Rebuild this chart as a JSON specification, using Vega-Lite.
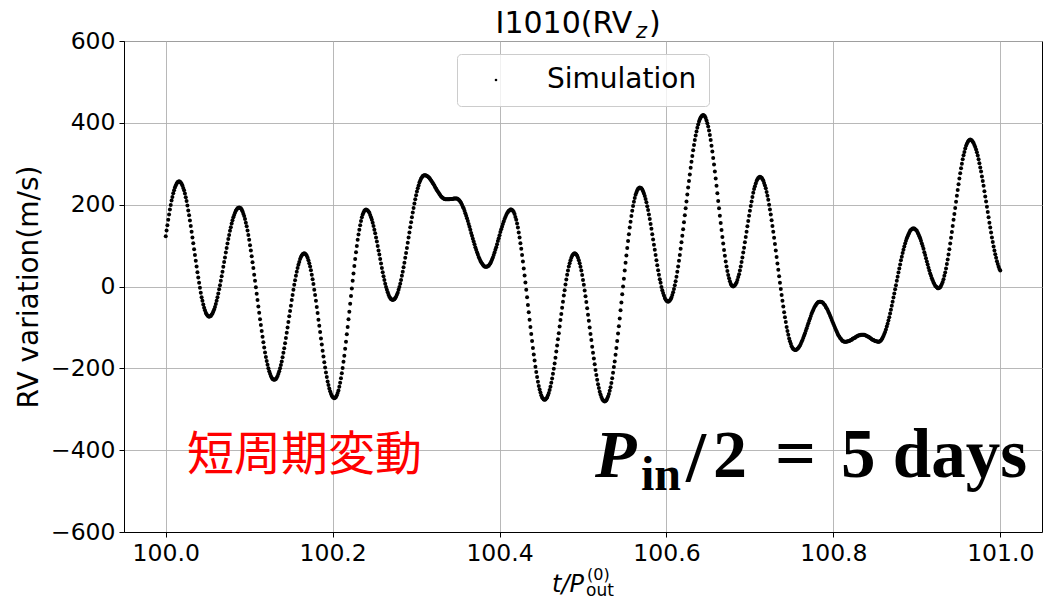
{
"$schema": "https://vega.github.io/schema/vega-lite/v6.json",
"width": 918,
"height": 491,
"autosize": {"type": "none"},
"padding": {"left": 124, "top": 41, "right": 1, "bottom": 69},
"background": "white",
"config": {
  "view": {"stroke": "black", "strokeWidth": 1},
  "font": "DejaVu Sans",
  "axis": {"labelFont": "DejaVu Sans", "labelFontSize": 23.5, "labelColor": "black", "tickColor": "black", "tickSize": 5, "tickWidth": 1, "domainColor": "black", "domainWidth": 1, "gridColor": "#b0b0b0", "gridWidth": 0.9, "labelPadding": 4, "labelFlush": false, "labelOverlap": false}
},
"layer": [
{
  "data": {"values": "t,v\n100.000,123\n100.001,137\n100.002,150\n100.003,163\n100.004,176\n100.005,188\n100.006,199\n100.007,210\n100.008,219\n100.009,228\n100.010,235\n100.011,242\n100.012,247\n100.013,251\n100.014,255\n100.015,256\n100.016,257\n100.017,256\n100.018,254\n100.019,251\n100.020,247\n100.021,241\n100.022,235\n100.023,227\n100.024,218\n100.025,209\n100.026,198\n100.027,186\n100.028,174\n100.029,161\n100.030,148\n100.031,134\n100.032,120\n100.033,106\n100.034,91\n100.035,77\n100.036,63\n100.037,49\n100.038,35\n100.039,22\n100.040,9\n100.041,-3\n100.042,-15\n100.043,-26\n100.044,-35\n100.045,-44\n100.046,-52\n100.047,-58\n100.048,-64\n100.049,-68\n100.050,-71\n100.051,-73\n100.052,-74\n100.053,-73\n100.054,-72\n100.055,-69\n100.056,-66\n100.057,-61\n100.058,-56\n100.059,-50\n100.060,-43\n100.061,-35\n100.062,-26\n100.063,-17\n100.064,-7\n100.065,3\n100.066,14\n100.067,25\n100.068,36\n100.069,48\n100.070,60\n100.071,71\n100.072,83\n100.073,94\n100.074,105\n100.075,116\n100.076,126\n100.077,136\n100.078,145\n100.079,154\n100.080,162\n100.081,169\n100.082,175\n100.083,180\n100.084,185\n100.085,188\n100.086,191\n100.087,192\n100.088,193\n100.089,192\n100.090,191\n100.091,188\n100.092,184\n100.093,178\n100.094,172\n100.095,165\n100.096,156\n100.097,147\n100.098,137\n100.099,126\n100.100,114\n100.101,101\n100.102,88\n100.103,74\n100.104,59\n100.105,45\n100.106,29\n100.107,14\n100.108,-2\n100.109,-18\n100.110,-33\n100.111,-49\n100.112,-64\n100.113,-80\n100.114,-94\n100.115,-109\n100.116,-123\n100.117,-136\n100.118,-149\n100.119,-161\n100.120,-172\n100.121,-182\n100.122,-191\n100.123,-200\n100.124,-207\n100.125,-213\n100.126,-219\n100.127,-223\n100.128,-226\n100.129,-227\n100.130,-228\n100.131,-227\n100.132,-226\n100.133,-223\n100.134,-219\n100.135,-213\n100.136,-207\n100.137,-200\n100.138,-192\n100.139,-183\n100.140,-173\n100.141,-162\n100.142,-151\n100.143,-139\n100.144,-126\n100.145,-113\n100.146,-100\n100.147,-87\n100.148,-73\n100.149,-60\n100.150,-47\n100.151,-33\n100.152,-21\n100.153,-8\n100.154,4\n100.155,15\n100.156,26\n100.157,36\n100.158,45\n100.159,53\n100.160,60\n100.161,67\n100.162,72\n100.163,76\n100.164,79\n100.165,80\n100.166,81\n100.167,80\n100.168,78\n100.169,75\n100.170,70\n100.171,64\n100.172,57\n100.173,49\n100.174,40\n100.175,29\n100.176,18\n100.177,6\n100.178,-8\n100.179,-21\n100.180,-35\n100.181,-50\n100.182,-65\n100.183,-81\n100.184,-96\n100.185,-111\n100.186,-127\n100.187,-142\n100.188,-157\n100.189,-171\n100.190,-185\n100.191,-198\n100.192,-210\n100.193,-221\n100.194,-232\n100.195,-241\n100.196,-249\n100.197,-256\n100.198,-262\n100.199,-267\n100.200,-270\n100.201,-272\n100.202,-273\n100.203,-272\n100.204,-270\n100.205,-266\n100.206,-260\n100.207,-254\n100.208,-245\n100.209,-235\n100.210,-224\n100.211,-212\n100.212,-199\n100.213,-184\n100.214,-169\n100.215,-152\n100.216,-135\n100.217,-117\n100.218,-99\n100.219,-80\n100.220,-62\n100.221,-42\n100.222,-23\n100.223,-5\n100.224,14\n100.225,32\n100.226,50\n100.227,67\n100.228,84\n100.229,99\n100.230,114\n100.231,127\n100.232,139\n100.233,150\n100.234,160\n100.235,169\n100.236,176\n100.237,181\n100.238,185\n100.239,187\n100.240,188\n100.241,187\n100.242,186\n100.243,183\n100.244,180\n100.245,175\n100.246,169\n100.247,163\n100.248,156\n100.249,148\n100.250,139\n100.251,130\n100.252,120\n100.253,110\n100.254,99\n100.255,88\n100.256,78\n100.257,67\n100.258,56\n100.259,45\n100.260,35\n100.261,25\n100.262,16\n100.263,7\n100.264,-1\n100.265,-8\n100.266,-14\n100.267,-20\n100.268,-25\n100.269,-28\n100.270,-31\n100.271,-32\n100.272,-33\n100.273,-32\n100.274,-31\n100.275,-28\n100.276,-25\n100.277,-20\n100.278,-15\n100.279,-8\n100.280,-1\n100.281,7\n100.282,16\n100.283,26\n100.284,36\n100.285,47\n100.286,58\n100.287,70\n100.288,82\n100.289,94\n100.290,107\n100.291,120\n100.292,132\n100.293,145\n100.294,157\n100.295,169\n100.296,181\n100.297,192\n100.298,203\n100.299,213\n100.300,223\n100.301,232\n100.302,240\n100.303,247\n100.304,254\n100.305,259\n100.306,264\n100.307,267\n100.308,270\n100.309,271\n100.310,272\n100.311,272\n100.312,271\n100.313,270\n100.314,269\n100.315,267\n100.316,265\n100.317,262\n100.318,259\n100.319,256\n100.320,253\n100.321,250\n100.322,246\n100.323,242\n100.324,239\n100.325,235\n100.326,232\n100.327,229\n100.328,226\n100.329,223\n100.330,220\n100.331,218\n100.332,216\n100.333,215\n100.334,214\n100.335,213\n100.336,213\n100.337,213\n100.338,213\n100.339,213\n100.340,213\n100.341,214\n100.342,214\n100.343,214\n100.344,214\n100.345,215\n100.346,215\n100.347,215\n100.348,215\n100.349,215\n100.350,214\n100.351,212\n100.352,210\n100.353,207\n100.354,204\n100.355,200\n100.356,195\n100.357,191\n100.358,185\n100.359,179\n100.360,173\n100.361,167\n100.362,160\n100.363,153\n100.364,146\n100.365,139\n100.366,131\n100.367,124\n100.368,117\n100.369,110\n100.370,103\n100.371,96\n100.372,90\n100.373,84\n100.374,78\n100.375,72\n100.376,68\n100.377,63\n100.378,59\n100.379,56\n100.380,53\n100.381,51\n100.382,49\n100.383,48\n100.384,48\n100.385,48\n100.386,50\n100.387,51\n100.388,54\n100.389,57\n100.390,61\n100.391,66\n100.392,71\n100.393,77\n100.394,83\n100.395,90\n100.396,96\n100.397,103\n100.398,111\n100.399,118\n100.400,125\n100.401,133\n100.402,140\n100.403,146\n100.404,153\n100.405,159\n100.406,165\n100.407,170\n100.408,175\n100.409,179\n100.410,182\n100.411,185\n100.412,186\n100.413,188\n100.414,188\n100.415,187\n100.416,185\n100.417,182\n100.418,177\n100.419,170\n100.420,163\n100.421,154\n100.422,144\n100.423,132\n100.424,120\n100.425,106\n100.426,92\n100.427,77\n100.428,61\n100.429,44\n100.430,27\n100.431,10\n100.432,-8\n100.433,-26\n100.434,-45\n100.435,-63\n100.436,-81\n100.437,-99\n100.438,-116\n100.439,-133\n100.440,-150\n100.441,-166\n100.442,-181\n100.443,-196\n100.444,-209\n100.445,-221\n100.446,-233\n100.447,-243\n100.448,-252\n100.449,-259\n100.450,-266\n100.451,-271\n100.452,-274\n100.453,-276\n100.454,-277\n100.455,-276\n100.456,-274\n100.457,-271\n100.458,-266\n100.459,-260\n100.460,-253\n100.461,-245\n100.462,-235\n100.463,-225\n100.464,-213\n100.465,-201\n100.466,-188\n100.467,-174\n100.468,-159\n100.469,-144\n100.470,-129\n100.471,-114\n100.472,-98\n100.473,-82\n100.474,-67\n100.475,-52\n100.476,-37\n100.477,-22\n100.478,-9\n100.479,5\n100.480,17\n100.481,29\n100.482,39\n100.483,49\n100.484,57\n100.485,64\n100.486,70\n100.487,75\n100.488,78\n100.489,80\n100.490,81\n100.491,80\n100.492,78\n100.493,75\n100.494,70\n100.495,64\n100.496,57\n100.497,48\n100.498,39\n100.499,28\n100.500,16\n100.501,4\n100.502,-10\n100.503,-24\n100.504,-38\n100.505,-53\n100.506,-69\n100.507,-84\n100.508,-100\n100.509,-116\n100.510,-131\n100.511,-147\n100.512,-162\n100.513,-176\n100.514,-190\n100.515,-204\n100.516,-216\n100.517,-228\n100.518,-239\n100.519,-248\n100.520,-257\n100.521,-264\n100.522,-270\n100.523,-275\n100.524,-278\n100.525,-280\n100.526,-281\n100.527,-280\n100.528,-278\n100.529,-274\n100.530,-269\n100.531,-263\n100.532,-255\n100.533,-246\n100.534,-236\n100.535,-224\n100.536,-211\n100.537,-197\n100.538,-183\n100.539,-167\n100.540,-150\n100.541,-133\n100.542,-115\n100.543,-97\n100.544,-78\n100.545,-58\n100.546,-39\n100.547,-19\n100.548,0\n100.549,19\n100.550,39\n100.551,58\n100.552,76\n100.553,94\n100.554,111\n100.555,128\n100.556,144\n100.557,158\n100.558,172\n100.559,185\n100.560,197\n100.561,207\n100.562,216\n100.563,224\n100.564,230\n100.565,235\n100.566,239\n100.567,241\n100.568,242\n100.569,241\n100.570,240\n100.571,237\n100.572,233\n100.573,227\n100.574,221\n100.575,214\n100.576,206\n100.577,196\n100.578,187\n100.579,176\n100.580,165\n100.581,153\n100.582,141\n100.583,128\n100.584,115\n100.585,102\n100.586,90\n100.587,77\n100.588,64\n100.589,52\n100.590,40\n100.591,29\n100.592,18\n100.593,9\n100.594,-1\n100.595,-9\n100.596,-16\n100.597,-22\n100.598,-28\n100.599,-32\n100.600,-35\n100.601,-36\n100.602,-37\n100.603,-36\n100.604,-34\n100.605,-31\n100.606,-27\n100.607,-21\n100.608,-14\n100.609,-6\n100.610,3\n100.611,13\n100.612,24\n100.613,36\n100.614,49\n100.615,63\n100.616,77\n100.617,92\n100.618,108\n100.619,124\n100.620,140\n100.621,157\n100.622,174\n100.623,191\n100.624,208\n100.625,225\n100.626,242\n100.627,258\n100.628,274\n100.629,290\n100.630,305\n100.631,319\n100.632,333\n100.633,346\n100.634,358\n100.635,369\n100.636,379\n100.637,388\n100.638,396\n100.639,403\n100.640,409\n100.641,413\n100.642,416\n100.643,418\n100.644,419\n100.645,418\n100.646,416\n100.647,412\n100.648,406\n100.649,399\n100.650,391\n100.651,381\n100.652,370\n100.653,358\n100.654,344\n100.655,330\n100.656,314\n100.657,298\n100.658,281\n100.659,264\n100.660,246\n100.661,228\n100.662,209\n100.663,191\n100.664,173\n100.665,155\n100.666,138\n100.667,121\n100.668,105\n100.669,89\n100.670,75\n100.671,61\n100.672,49\n100.673,38\n100.674,28\n100.675,20\n100.676,13\n100.677,7\n100.678,3\n100.679,1\n100.680,0\n100.681,1\n100.682,3\n100.683,6\n100.684,10\n100.685,16\n100.686,23\n100.687,30\n100.688,39\n100.689,49\n100.690,60\n100.691,71\n100.692,83\n100.693,95\n100.694,108\n100.695,121\n100.696,134\n100.697,147\n100.698,160\n100.699,173\n100.700,185\n100.701,197\n100.702,208\n100.703,219\n100.704,229\n100.705,238\n100.706,245\n100.707,252\n100.708,258\n100.709,262\n100.710,265\n100.711,267\n100.712,268\n100.713,267\n100.714,266\n100.715,263\n100.716,259\n100.717,253\n100.718,247\n100.719,240\n100.720,231\n100.721,222\n100.722,212\n100.723,200\n100.724,188\n100.725,176\n100.726,162\n100.727,148\n100.728,134\n100.729,119\n100.730,104\n100.731,88\n100.732,72\n100.733,56\n100.734,41\n100.735,25\n100.736,9\n100.737,-6\n100.738,-21\n100.739,-35\n100.740,-49\n100.741,-63\n100.742,-75\n100.743,-87\n100.744,-99\n100.745,-109\n100.746,-118\n100.747,-127\n100.748,-134\n100.749,-140\n100.750,-146\n100.751,-150\n100.752,-153\n100.753,-154\n100.754,-155\n100.755,-155\n100.756,-154\n100.757,-152\n100.758,-150\n100.759,-147\n100.760,-144\n100.761,-140\n100.762,-135\n100.763,-131\n100.764,-125\n100.765,-120\n100.766,-114\n100.767,-108\n100.768,-102\n100.769,-96\n100.770,-90\n100.771,-84\n100.772,-78\n100.773,-72\n100.774,-66\n100.775,-61\n100.776,-57\n100.777,-52\n100.778,-48\n100.779,-45\n100.780,-42\n100.781,-40\n100.782,-38\n100.783,-37\n100.784,-37\n100.785,-37\n100.786,-38\n100.787,-39\n100.788,-41\n100.789,-44\n100.790,-46\n100.791,-50\n100.792,-53\n100.793,-57\n100.794,-62\n100.795,-66\n100.796,-71\n100.797,-76\n100.798,-81\n100.799,-86\n100.800,-91\n100.801,-96\n100.802,-101\n100.803,-106\n100.804,-110\n100.805,-115\n100.806,-119\n100.807,-122\n100.808,-126\n100.809,-128\n100.810,-131\n100.811,-133\n100.812,-134\n100.813,-135\n100.814,-135\n100.815,-135\n100.816,-135\n100.817,-134\n100.818,-134\n100.819,-133\n100.820,-132\n100.821,-131\n100.822,-130\n100.823,-128\n100.824,-127\n100.825,-126\n100.826,-125\n100.827,-123\n100.828,-122\n100.829,-121\n100.830,-120\n100.831,-119\n100.832,-119\n100.833,-118\n100.834,-118\n100.835,-118\n100.836,-118\n100.837,-118\n100.838,-119\n100.839,-120\n100.840,-121\n100.841,-122\n100.842,-123\n100.843,-124\n100.844,-126\n100.845,-127\n100.846,-129\n100.847,-130\n100.848,-131\n100.849,-132\n100.850,-133\n100.851,-134\n100.852,-134\n100.853,-135\n100.854,-135\n100.855,-135\n100.856,-133\n100.857,-132\n100.858,-129\n100.859,-125\n100.860,-121\n100.861,-116\n100.862,-111\n100.863,-105\n100.864,-98\n100.865,-91\n100.866,-83\n100.867,-75\n100.868,-66\n100.869,-57\n100.870,-47\n100.871,-37\n100.872,-27\n100.873,-17\n100.874,-7\n100.875,3\n100.876,14\n100.877,24\n100.878,34\n100.879,44\n100.880,54\n100.881,64\n100.882,73\n100.883,82\n100.884,90\n100.885,98\n100.886,105\n100.887,112\n100.888,118\n100.889,123\n100.890,128\n100.891,132\n100.892,136\n100.893,139\n100.894,140\n100.895,142\n100.896,142\n100.897,142\n100.898,140\n100.899,138\n100.900,136\n100.901,132\n100.902,128\n100.903,123\n100.904,118\n100.905,112\n100.906,105\n100.907,99\n100.908,92\n100.909,84\n100.910,77\n100.911,69\n100.912,61\n100.913,54\n100.914,46\n100.915,39\n100.916,32\n100.917,26\n100.918,20\n100.919,15\n100.920,10\n100.921,6\n100.922,2\n100.923,0\n100.924,-2\n100.925,-4\n100.926,-4\n100.927,-3\n100.928,-2\n100.929,2\n100.930,6\n100.931,11\n100.932,18\n100.933,26\n100.934,34\n100.935,44\n100.936,55\n100.937,66\n100.938,78\n100.939,91\n100.940,105\n100.941,119\n100.942,133\n100.943,148\n100.944,163\n100.945,177\n100.946,192\n100.947,207\n100.948,222\n100.949,236\n100.950,250\n100.951,264\n100.952,277\n100.953,289\n100.954,300\n100.955,311\n100.956,321\n100.957,329\n100.958,337\n100.959,344\n100.960,349\n100.961,353\n100.962,356\n100.963,358\n100.964,359\n100.965,358\n100.966,357\n100.967,354\n100.968,351\n100.969,346\n100.970,341\n100.971,335\n100.972,328\n100.973,320\n100.974,311\n100.975,301\n100.976,291\n100.977,281\n100.978,269\n100.979,258\n100.980,246\n100.981,233\n100.982,220\n100.983,208\n100.984,195\n100.985,182\n100.986,169\n100.987,156\n100.988,144\n100.989,132\n100.990,120\n100.991,109\n100.992,98\n100.993,88\n100.994,79\n100.995,70\n100.996,62\n100.997,55\n100.998,48\n100.999,43\n101.000,39", "format": {"type": "csv", "parse": {"t": "number", "v": "number"}}},
  "mark": {"type": "circle", "size": 16, "opacity": 1},
  "encoding": {
    "x": {"field": "t", "type": "quantitative", "scale": {"domain": [99.95, 101.05], "nice": false, "zero": false}, "axis": {"title": null, "values": [100, 100.2, 100.4, 100.6, 100.8, 101], "format": ".1f"}},
    "y": {"field": "v", "type": "quantitative", "scale": {"domain": [-600, 600], "nice": false, "zero": false}, "axis": {"title": "RV variation(m/s)", "values": [-600, -400, -200, 0, 200, 400, 600], "format": "d", "titleFont": "DejaVu Sans", "titleFontSize": 28, "titleFontWeight": "normal", "titleColor": "black", "titlePadding": 7}},
    "color": {"datum": "Simulation", "type": "nominal", "scale": {"range": ["black"]}, "legend": {"title": null, "orient": "none", "legendX": 333, "legendY": 13, "padding": 12, "fillColor": "rgba(255,255,255,0.8)", "strokeColor": "#cccccc", "cornerRadius": 4, "labelFont": "DejaVu Sans", "labelFontSize": 28, "labelColor": "black", "symbolType": "circle", "symbolSize": 7, "symbolFillColor": "black", "symbolStrokeWidth": 0, "symbolOffset": 13, "labelOffset": 37}}
  }
},
{"data": {"values": [{}]}, "mark": {"type": "text", "text": "短周期変動", "font": "Noto Sans CJK JP", "fontSize": 47, "color": "#ff0000", "align": "left", "baseline": "alphabetic"}, "encoding": {"x": {"datum": 100.0255, "type": "quantitative"}, "y": {"datum": -448.5, "type": "quantitative"}}},
{"data": {"values": [{}]}, "mark": {"type": "text", "text": "P", "font": "Liberation Serif", "fontSize": 68, "fontStyle": "italic", "fontWeight": "bold", "color": "black", "align": "left", "baseline": "alphabetic"}, "encoding": {"x": {"datum": 100.5144, "type": "quantitative"}, "y": {"datum": -465.6, "type": "quantitative"}}},
{"data": {"values": [{}]}, "mark": {"type": "text", "text": "in", "font": "Liberation Serif", "fontSize": 48, "fontWeight": "bold", "color": "black", "align": "left", "baseline": "alphabetic"}, "encoding": {"x": {"datum": 100.5695, "type": "quantitative"}, "y": {"datum": -497.4, "type": "quantitative"}}},
{"data": {"values": [{}]}, "mark": {"type": "text", "text": "/", "font": "Liberation Serif", "fontSize": 72, "fontWeight": "bold", "color": "black", "align": "left", "baseline": "alphabetic"}, "encoding": {"x": {"datum": 100.6234, "type": "quantitative"}, "y": {"datum": -475, "type": "quantitative"}}},
{"data": {"values": [{}]}, "mark": {"type": "text", "text": "2", "font": "Liberation Serif", "fontSize": 68, "fontWeight": "bold", "color": "black", "align": "left", "baseline": "alphabetic"}, "encoding": {"x": {"datum": 100.6558, "type": "quantitative"}, "y": {"datum": -465.6, "type": "quantitative"}}},
{"data": {"values": [{}]}, "mark": {"type": "text", "text": "=", "font": "Liberation Serif", "fontSize": 72, "fontWeight": "bold", "color": "black", "align": "left", "baseline": "alphabetic"}, "encoding": {"x": {"datum": 100.7301, "type": "quantitative"}, "y": {"datum": -465.6, "type": "quantitative"}}},
{"data": {"values": [{}]}, "mark": {"type": "text", "text": "5 days", "font": "Liberation Serif", "fontSize": 69, "fontWeight": "bold", "color": "black", "align": "left", "baseline": "alphabetic"}, "encoding": {"x": {"datum": 100.8092, "type": "quantitative"}, "y": {"datum": -465.6, "type": "quantitative"}}},
{"data": {"values": [{}]}, "mark": {"type": "text", "text": "I1010(RV", "font": "DejaVu Sans", "fontSize": 30, "color": "black", "align": "left", "baseline": "alphabetic"}, "encoding": {"x": {"datum": 100.3952, "type": "quantitative"}, "y": {"datum": 619.6, "type": "quantitative"}}},
{"data": {"values": [{}]}, "mark": {"type": "text", "text": "z", "font": "DejaVu Sans", "fontSize": 21, "fontStyle": "italic", "color": "black", "align": "left", "baseline": "alphabetic"}, "encoding": {"x": {"datum": 100.5635, "type": "quantitative"}, "y": {"datum": 607.3, "type": "quantitative"}}},
{"data": {"values": [{}]}, "mark": {"type": "text", "text": ")", "font": "DejaVu Sans", "fontSize": 30, "color": "black", "align": "left", "baseline": "alphabetic"}, "encoding": {"x": {"datum": 100.5791, "type": "quantitative"}, "y": {"datum": 619.6, "type": "quantitative"}}},
{"data": {"values": [{}]}, "mark": {"type": "text", "text": "t/P", "font": "DejaVu Sans", "fontSize": 24, "fontStyle": "italic", "color": "black", "align": "left", "baseline": "alphabetic"}, "encoding": {"x": {"datum": 100.4629, "type": "quantitative"}, "y": {"datum": -746.6, "type": "quantitative"}}},
{"data": {"values": [{}]}, "mark": {"type": "text", "text": "(0)", "font": "DejaVu Sans", "fontSize": 16, "color": "black", "align": "left", "baseline": "alphabetic"}, "encoding": {"x": {"datum": 100.5048, "type": "quantitative"}, "y": {"datum": -716.1, "type": "quantitative"}}},
{"data": {"values": [{}]}, "mark": {"type": "text", "text": "out", "font": "DejaVu Sans", "fontSize": 17, "color": "black", "align": "left", "baseline": "alphabetic"}, "encoding": {"x": {"datum": 100.5036, "type": "quantitative"}, "y": {"datum": -757.6, "type": "quantitative"}}}
]
}
